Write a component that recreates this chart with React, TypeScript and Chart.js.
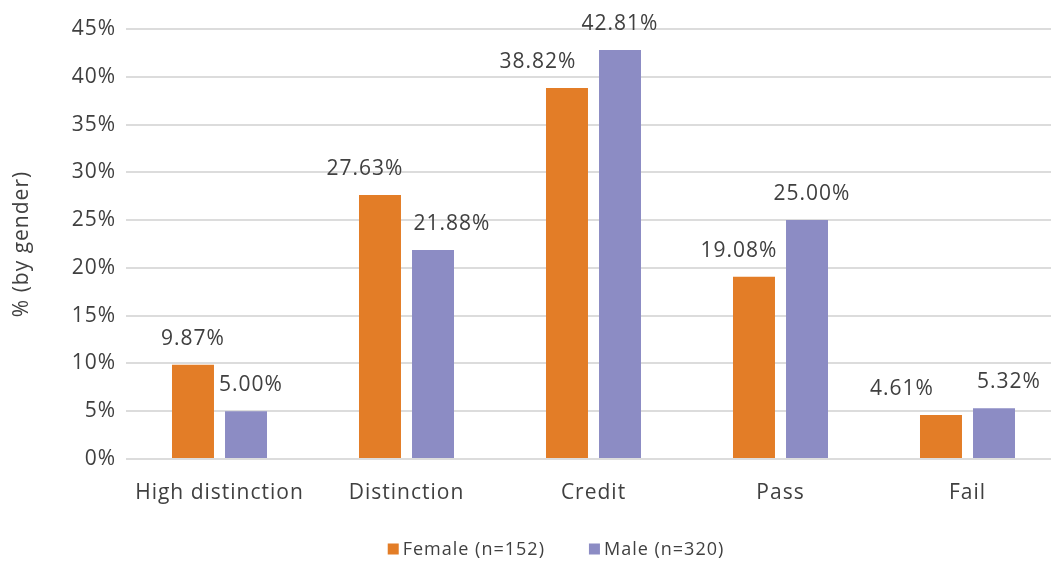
import React, { useEffect, useRef } from "react";
import { Chart, registerables } from "chart.js";

Chart.register(...registerables);

// Grade bands and the share of each gender group falling in each band (%)
const categories = ["High distinction", "Distinction", "Credit", "Pass", "Fail"];
const femaleLabel = "Female (n=152)";
const maleLabel = "Male (n=320)";
const femaleValues = [9.87, 27.63, 38.82, 19.08, 4.61];
const maleValues = [5.0, 21.88, 42.81, 25.0, 5.32];
const yTicks = [0, 5, 10, 15, 20, 25, 30, 35, 40, 45];

// Horizontal nudges (px) for value labels so neighbours do not collide
const femaleLabelShift = [0, -15, -29, -15, -39];
const maleLabelShift = [5, 19, 0, 5, 15];

const ORANGE = "#E37D27";
const PURPLE = "#8C8CC4";
const TEXT = "#404040";
const GRID = "#DCDCDC";
const FONT = "'Open Sans', 'Noto Sans', sans-serif";
const SPACING = "1px";

// Slightly tracked-out text everywhere on the canvas
const tracking = {
  id: "tracking",
  beforeUpdate(chart: any) {
    chart.ctx.letterSpacing = SPACING;
  },
  beforeDraw(chart: any) {
    chart.ctx.letterSpacing = SPACING;
  },
};

const valueLabels = {
  id: "valueLabels",
  afterDatasetsDraw(chart: any) {
    const ctx = chart.ctx;
    ctx.save();
    ctx.font = `21px ${FONT}`;
    ctx.letterSpacing = SPACING;
    ctx.fillStyle = TEXT;
    ctx.textAlign = "center";
    ctx.textBaseline = "middle";
    const shifts = [femaleLabelShift, maleLabelShift];
    chart.data.datasets.forEach((ds: any, di: number) => {
      const meta = chart.getDatasetMeta(di);
      meta.data.forEach((bar: any, i: number) => {
        const v = ds.data[i] as number;
        ctx.fillText(v.toFixed(2) + "%", bar.x + shifts[di][i], bar.y - 26);
      });
    });
    ctx.restore();
  },
};

const bottomLegend = {
  id: "bottomLegend",
  afterDraw(chart: any) {
    const ctx = chart.ctx;
    ctx.save();
    ctx.font = `18px ${FONT}`;
    ctx.letterSpacing = SPACING;
    ctx.textBaseline = "middle";
    ctx.textAlign = "left";
    const box = 11;
    const gapText = 4;
    const gapItem = 44;
    const items = chart.data.datasets.map((ds: any) => ({
      label: ds.label as string,
      color: ds.backgroundColor as string,
      w: box + gapText + ctx.measureText(ds.label).width,
    }));
    const total = items.reduce((s: number, it: any) => s + it.w, 0) + gapItem * (items.length - 1);
    const cx = 556;
    const cy = 549;
    let x = cx - total / 2;
    items.forEach((it: any) => {
      ctx.fillStyle = it.color;
      ctx.fillRect(x, cy - box / 2, box, box);
      ctx.fillStyle = TEXT;
      ctx.fillText(it.label, x + box + gapText, cy + 1);
      x += it.w + gapItem;
    });
    ctx.restore();
  },
};

export default function App() {
  const ref = useRef<HTMLCanvasElement | null>(null);

  useEffect(() => {
    if (!ref.current) return;
    const chart = new Chart(ref.current, {
      type: "bar",
      data: {
        labels: categories,
        datasets: [
          {
            label: femaleLabel,
            data: femaleValues,
            backgroundColor: ORANGE,
            categoryPercentage: 0.567,
            barPercentage: 0.792,
          },
          {
            label: maleLabel,
            data: maleValues,
            backgroundColor: PURPLE,
            categoryPercentage: 0.567,
            barPercentage: 0.792,
          },
        ],
      },
      options: {
        responsive: false,
        animation: false,
        layout: { padding: { top: 29, left: 0, right: 14, bottom: 30 } },
        plugins: {
          legend: { display: false },
          tooltip: { enabled: false },
        },
        scales: {
          x: {
            grid: { display: false },
            border: { display: false },
            ticks: {
              color: TEXT,
              font: { family: FONT, size: 21 },
              padding: 13,
              maxRotation: 0,
            },
            afterFit(scale: any) {
              scale.height = 72;
            },
          },
          y: {
            min: 0,
            max: 45,
            afterBuildTicks(scale: any) {
              scale.ticks = yTicks.map((v) => ({ value: v }));
            },
            grid: { color: GRID, lineWidth: 2, drawTicks: false },
            border: { display: false },
            ticks: {
              color: TEXT,
              font: { family: FONT, size: 21 },
              padding: 10,
              callback: (v: any) => `${v}%`,
            },
            title: {
              display: true,
              text: "% (by gender)",
              color: TEXT,
              font: { family: FONT, size: 21 },
              padding: { top: 9, bottom: 0 },
            },
            afterFit(scale: any) {
              scale.width = 126;
            },
          },
        },
      },
      plugins: [tracking, valueLabels, bottomLegend],
    });
    return () => chart.destroy();
  }, []);

  return (
    <div
      style={{
        position: "fixed",
        left: 0,
        top: 0,
        width: 1051,
        height: 561,
        overflow: "hidden",
        background: "#fff",
      }}
    >
      <canvas ref={ref} width={1075} height={561} style={{ display: "block" }} />
    </div>
  );
}
